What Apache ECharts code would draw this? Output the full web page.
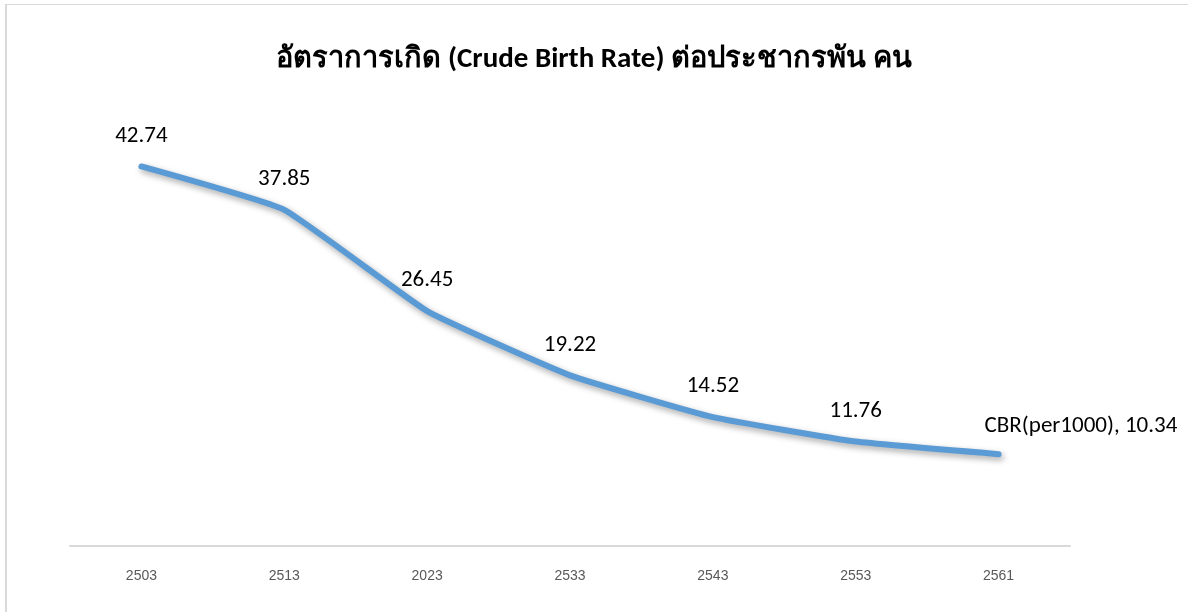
<!DOCTYPE html>
<html>
<head>
<meta charset="utf-8">
<script src="https://cdn.jsdelivr.net/npm/echarts@6/dist/echarts.min.js"></script>
<style>
    html, body { margin: 0; padding: 0; background: #fff; }
    #frame { position: absolute; left: 5px; top: 4px; width: 1300px; height: 700px;
        border-left: 2px solid #d9d9d9; border-top: 1px solid #d9d9d9; }
    #chart { position: absolute; left: 0; top: 0; width: 1188px; height: 612px; }
</style>
</head>
<body>
<div id="frame"></div>
<div id="chart"></div>
<script>
// ปี พ.ศ. (ตามภาพ)
const years = ['2503', '2513', '2023', '2533', '2543', '2553', '2561'];
const cbr = [42.74, 37.85, 26.45, 19.22, 14.52, 11.76, 10.34];
const seriesName = 'CBR(per1000)';
const titleText = 'อัตราการเกิด (Crude Birth Rate) ต่อประชากรพัน คน';

const font = 'Calibri, Carlito, "Open Sans", "Noto Sans", sans-serif';

const lineData = cbr.map((v, i) => {
    if (i === cbr.length - 1) {
        return {
            value: v,
            label: {
                position: 'right',
                offset: [-33, -28],
                formatter: seriesName + ', ' + v.toFixed(2)
            }
        };
    }
    return v;
});

var chart = echarts.init(document.getElementById('chart'), null, { renderer: 'canvas' });
chart.setOption({
    backgroundColor: 'transparent',
    animation: false,
    title: {
        text: titleText,
        left: 'center',
        top: 40,
        textStyle: {
            fontSize: 29,
            fontWeight: 'bold',
            color: '#000',
            fontFamily: font
        }
    },
    grid: { left: 70, right: 118, top: 102, bottom: 66 },
    xAxis: {
        type: 'category',
        data: years,
        axisLine: { lineStyle: { color: '#d9d9d9', width: 2 } },
        axisTick: { show: false },
        axisLabel: {
            color: '#595959',
            fontSize: 14,
            margin: 23,
            fontFamily: 'Arial, "Liberation Sans", sans-serif'
        }
    },
    yAxis: {
        type: 'value',
        min: 0,
        max: 50,
        show: false,
        splitLine: { show: false }
    },
    series: [{
        name: seriesName,
        type: 'line',
        data: lineData,
        smooth: 0.12,
        symbol: 'circle',
        symbolSize: 2,
        showSymbol: true,
        showAllSymbol: true,
        itemStyle: { color: 'rgba(91,155,213,0)', borderWidth: 0 },
        lineStyle: {
            color: '#5b9bd5',
            width: 6,
            cap: 'round',
            shadowColor: 'rgba(0,0,0,0.35)',
            shadowBlur: 6,
            shadowOffsetX: 2,
            shadowOffsetY: 3
        },
        label: {
            show: true,
            position: 'top',
            distance: 18,
            fontSize: 23,
            color: '#000',
            opacity: 1,
            fontFamily: font,
            formatter: (p) => p.value.toFixed(2)
        }
    }]
});
</script>
</body>
</html>
